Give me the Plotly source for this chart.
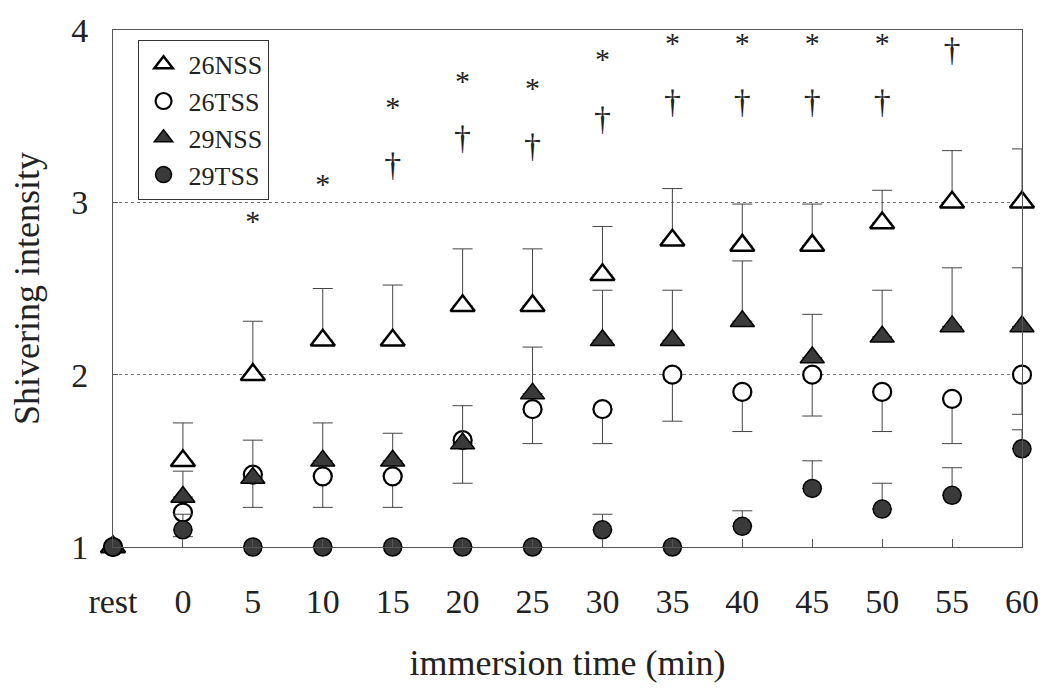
import plotly.graph_objects as go

categories = ["rest", "0", "5", "10", "15", "20", "25", "30", "35", "40", "45", "50", "55", "60"]

nss26 = [1.0, 1.50, 2.00, 2.20, 2.20, 2.40, 2.40, 2.58, 2.78, 2.75, 2.75, 2.88, 3.00, 3.00]
nss26_err_up = [0, 0.22, 0.31, 0.30, 0.32, 0.33, 0.33, 0.28, 0.30, 0.24, 0.24, 0.19, 0.30, 0.31]

tss26 = [1.0, 1.20, 1.42, 1.41, 1.41, 1.62, 1.80, 1.80, 2.00, 1.90, 2.00, 1.90, 1.86, 2.00]
tss26_err_down = [0, 0.14, 0.19, 0.18, 0.18, 0.25, 0.20, 0.20, 0.27, 0.23, 0.24, 0.23, 0.26, 0.23]

nss29 = [1.0, 1.29, 1.40, 1.50, 1.50, 1.60, 1.89, 2.20, 2.20, 2.31, 2.10, 2.22, 2.28, 2.28]
nss29_err_up = [0, 0.15, 0.22, 0.22, 0.16, 0.22, 0.27, 0.29, 0.29, 0.35, 0.25, 0.27, 0.34, 0.34]

tss29 = [1.0, 1.10, 1.0, 1.0, 1.0, 1.0, 1.0, 1.10, 1.0, 1.12, 1.34, 1.22, 1.30, 1.57]
tss29_err_up = [0, 0.09, 0, 0, 0, 0, 0, 0.09, 0, 0.09, 0.16, 0.15, 0.16, 0.11]

star_y = [None, None, 2.88, 3.09, 3.54, 3.69, 3.65, 3.82, 3.91, 3.91, 3.91, 3.91, None, None]
dagger_y = [None, None, None, None, 3.20, 3.36, 3.31, 3.47, 3.57, 3.57, 3.57, 3.57, 3.87, None]

FONT = "Liberation Serif"
ERRC = "#444444"
FILL = "#3a3a3a"
zeros = [0] * len(categories)


def err(plus, minus):
    return dict(type="data", symmetric=False, array=plus, arrayminus=minus,
                color=ERRC, thickness=1, width=10)


fig = go.Figure()

fig.add_trace(go.Scatter(
    x=categories, y=nss26, mode="markers", name="26NSS",
    marker=dict(symbol="triangle-up", size=21, color="white",
                line=dict(color="black", width=2.5)),
    error_y=err(nss26_err_up, zeros), cliponaxis=False))

fig.add_trace(go.Scatter(
    x=categories, y=tss26, mode="markers", name="26TSS",
    marker=dict(symbol="circle", size=18, color="white",
                line=dict(color="black", width=2.2)),
    error_y=err(zeros, tss26_err_down), cliponaxis=False))

fig.add_trace(go.Scatter(
    x=categories, y=nss29, mode="markers", name="29NSS",
    marker=dict(symbol="triangle-up", size=21, color=FILL,
                line=dict(color="black", width=1.5)),
    error_y=err(nss29_err_up, zeros), cliponaxis=False))

fig.add_trace(go.Scatter(
    x=categories, y=tss29, mode="markers", name="29TSS",
    marker=dict(symbol="circle", size=18, color=FILL,
                line=dict(color="black", width=1.5)),
    error_y=err(tss29_err_up, zeros), cliponaxis=False))

fig.add_trace(go.Scatter(
    x=categories, y=star_y, mode="text", text=["*"] * len(categories),
    textfont=dict(family=FONT, size=30, color="#222"), showlegend=False,
    hoverinfo="skip", cliponaxis=False))

fig.add_trace(go.Scatter(
    x=categories, y=dagger_y, mode="text", text=["†"] * len(categories),
    textfont=dict(family=FONT, size=34, color="#222"), showlegend=False,
    hoverinfo="skip", cliponaxis=False))

fig.update_layout(
    width=1051, height=688,
    margin=dict(l=113, r=23, t=28, b=140),
    paper_bgcolor="white", plot_bgcolor="white",
    font=dict(family=FONT, size=34, color="#222"),
    showlegend=True,
    legend=dict(x=0.027, y=0.981, xanchor="left", yanchor="top",
                bgcolor="white", bordercolor="#333", borderwidth=1,
                font=dict(family=FONT, size=26, color="#222"),
                itemwidth=40, tracegroupgap=0, entrywidth=155,
                entrywidthmode="pixels"),
    xaxis=dict(
        type="category", categoryorder="array", categoryarray=categories,
        range=[0, 13], showgrid=False, zeroline=False,
        showline=True, linecolor="#555", linewidth=1, mirror=True,
        ticks="inside", ticklen=8, tickcolor="#555", tickwidth=1,
        ticklabelstandoff=24,
        tickfont=dict(family=FONT, size=34, color="#222"),
        title=dict(text="immersion time (min)", standoff=31,
                   font=dict(family=FONT, size=36, color="#222")),
    ),
    yaxis=dict(
        range=[1, 4], tickvals=[1, 2, 3, 4], ticktext=["1", "2", "3", "4"],
        showgrid=True, gridcolor="#777", griddash="dot", gridwidth=1,
        zeroline=False,
        showline=True, linecolor="#555", linewidth=1, mirror=True,
        ticks="inside", ticklen=5, tickcolor="#555", tickwidth=1,
        ticklabelstandoff=17,
        tickfont=dict(family=FONT, size=34, color="#222"),
        title=dict(text="Shivering intensity", standoff=20,
                   font=dict(family=FONT, size=36, color="#222")),
    ),
)

fig.write_html("out.html")
